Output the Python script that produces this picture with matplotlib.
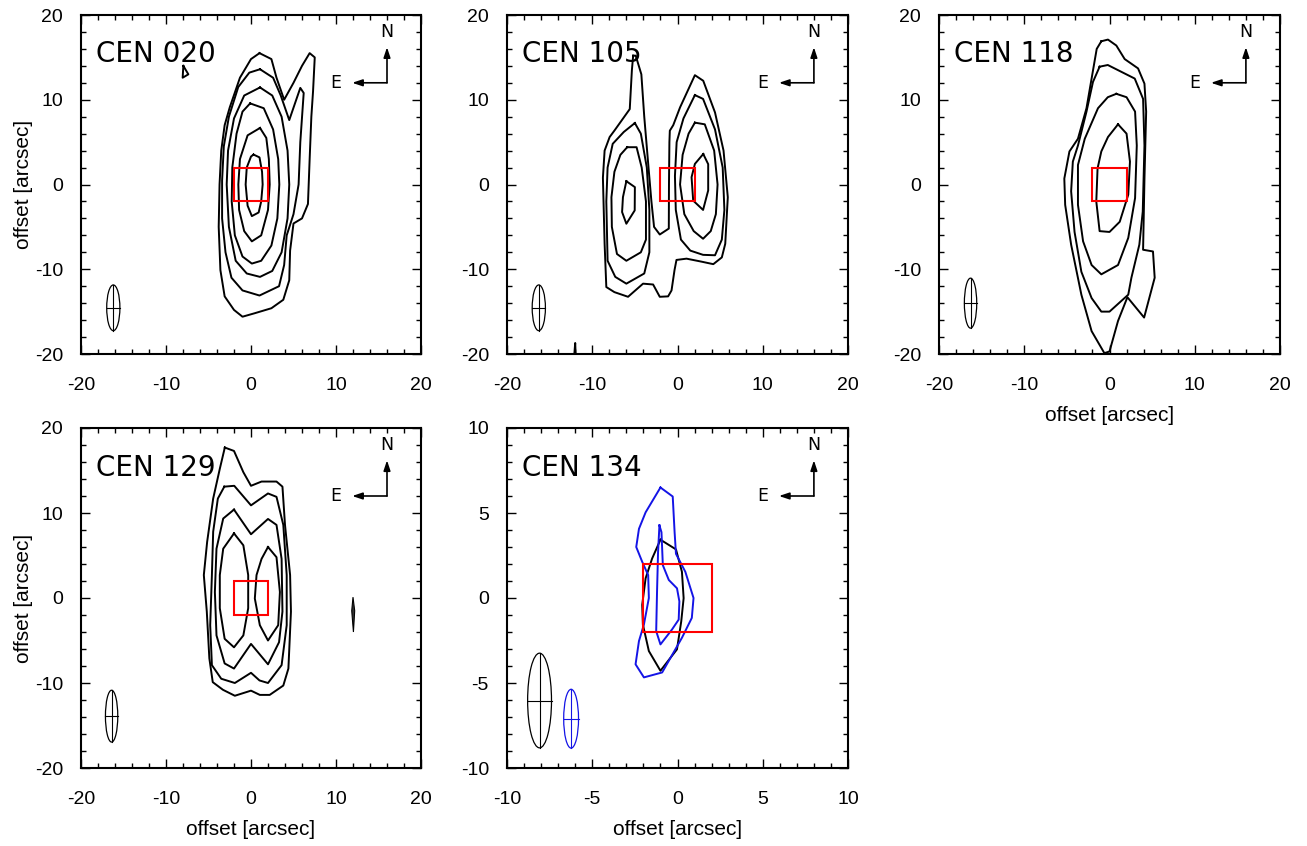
"""Integrated line maps of the CEN sources, five panels with beams, N/E arrows and
the red slit box. Contour outlines are traced from the published figure."""
import matplotlib
matplotlib.use("Agg")
import matplotlib.pyplot as plt  # noqa: E402
from matplotlib.patches import Ellipse, Rectangle  # noqa: E402
from matplotlib.ticker import MultipleLocator  # noqa: E402

W, H = 1307, 846
TICK_FONT = "Liberation Sans"
NAME_FONT = "DejaVu Sans"

# ---- data: contour outlines (x, y offsets in arcsec) -------------------------
CEN020 = [
    [(1.0, 15.5), (2.4, 14.8), (3.0, 12.6), (3.9, 10.0), (5.0, 12.0), (6.0, 14.0), (6.9, 15.5),
     (7.5, 15.0), (7.3, 11.0), (7.1, 8.0), (6.9, 3.0), (6.7, -2.3), (6.0, -4.0), (5.0, -4.6),
     (4.6, -7.8), (4.5, -11.3), (3.8, -13.6), (2.4, -14.6), (0.4, -15.2), (-1.0, -15.6),
     (-2.0, -14.8), (-3.1, -13.2), (-3.6, -10.1), (-3.8, -5.0), (-3.7, 0.0), (-3.5, 4.0),
     (-3.1, 7.0), (-2.5, 9.1), (-1.3, 12.6), (0.0, 14.8)],
    [(1.06, 13.6), (2.6, 12.6), (3.5, 10.5), (4.5, 7.6), (5.8, 11.4), (6.2, 10.8), (5.8, 5.0),
     (5.6, 0.0), (5.0, -3.5), (4.2, -6.0), (3.9, -9.5), (3.3, -12.0), (1.0, -13.1),
     (-1.0, -12.5), (-2.3, -11.0), (-3.0, -8.0), (-3.4, -4.0), (-3.4, 0.5), (-3.2, 4.5),
     (-2.6, 8.0), (-1.5, 11.5), (-0.2, 13.2)],
    [(1.06, 11.45), (2.5, 10.5), (3.6, 8.0), (4.3, 4.0), (4.5, 0.0), (4.3, -4.0), (3.6, -8.0),
     (2.5, -10.2), (1.06, -10.9), (-0.5, -10.5), (-1.8, -9.0), (-2.6, -5.0), (-2.86, 0.0),
     (-2.7, 4.0), (-2.0, 7.8), (-0.8, 10.5)],
    [(-0.1, 9.57), (1.5, 9.0), (2.6, 6.5), (3.2, 3.0), (3.33, 0.0), (3.1, -4.0), (2.4, -7.2),
     (1.2, -9.0), (0.1, -9.33), (-1.0, -8.5), (-1.9, -6.0), (-2.27, -2.0), (-2.2, 2.0),
     (-1.7, 6.0), (-1.0, 8.6)],
    [(1.06, 6.67), (1.8, 5.5), (2.1, 3.0), (2.2, 0.0), (2.0, -3.0), (1.2, -6.0), (0.1, -6.71),
     (-0.8, -5.5), (-1.4, -3.0), (-1.49, 0.0), (-1.3, 3.0), (-0.4, 5.8)],
    [(0.3, 3.53), (1.0, 3.2), (1.3, 1.5), (1.37, 0.0), (1.2, -2.0), (0.9, -3.3), (0.1, -3.73),
     (-0.4, -2.5), (-0.63, 0.0), (-0.5, 2.0), (0.0, 3.3)],
    [(-7.96, 14.0), (-8.04, 12.6), (-7.37, 13.0)],
]

CEN105 = [
    [(-5.2, 15.2), (-4.9, 15.2), (-4.24, 13.0), (-3.9, 8.0), (-3.4, 2.0), (-3.06, -2.0),
     (-2.75, -5.0), (-2.08, -5.9), (-1.02, -5.2), (-1.0, 0.0), (-0.95, 5.0), (-0.9, 6.35),
     (-0.5, 7.0), (0.3, 9.1), (2.04, 12.9), (3.02, 12.24), (4.4, 8.5), (5.4, 4.0), (5.9, -1.5),
     (5.6, -7.0), (5.2, -8.6), (4.2, -9.4), (2.8, -9.1), (1.06, -8.75), (-0.12, -8.9),
     (-0.35, -10.1), (-0.7, -12.5), (-1.1, -13.2), (-2.08, -13.25), (-2.86, -11.8),
     (-4.04, -11.7), (-5.8, -13.25), (-7.4, -12.7), (-8.35, -12.1), (-8.55, -7.0),
     (-8.75, 0.8), (-8.55, 4.0), (-7.96, 5.6), (-7.37, 6.4), (-5.6, 8.9), (-5.35, 13.5)],
    [(-5.0, 7.25), (-4.3, 6.0), (-3.6, 2.0), (-3.3, -3.0), (-3.3, -8.0), (-3.9, -10.5),
     (-6.0, -11.7), (-7.3, -10.9), (-8.2, -9.0), (-8.35, -2.0), (-8.2, 2.0), (-7.6, 4.8),
     (-6.3, 6.2)],
    [(-5.9, 4.4), (-4.8, 4.4), (-4.2, 2.0), (-3.7, -2.0), (-3.7, -6.5), (-4.3, -8.0),
     (-6.0, -9.0), (-7.1, -8.2), (-7.7, -5.0), (-7.75, -1.5), (-7.4, 1.5), (-6.7, 3.5)],
    [(-6.0, 0.39), (-5.0, -0.31), (-5.02, -3.06), (-6.0, -4.63), (-6.5, -3.25), (-6.4, -1.5)],
    [(2.04, 10.55), (3.0, 10.1), (4.4, 6.5), (5.3, 2.0), (5.5, -3.0), (5.2, -6.5),
     (4.4, -8.35), (3.0, -8.3), (1.5, -7.8), (0.4, -6.5), (-0.2, -3.0), (-0.3, 1.0),
     (-0.1, 5.0), (0.7, 7.8)],
    [(2.04, 7.3), (3.2, 7.1), (4.3, 4.0), (4.7, 0.0), (4.5, -3.5), (3.9, -5.5), (3.0, -6.4),
     (1.9, -5.5), (0.8, -3.5), (0.3, 0.0), (0.6, 3.5), (1.3, 6.0)],
    [(3.02, 3.6), (3.6, 2.4), (3.6, -0.7), (3.0, -3.0), (1.84, -1.9), (1.65, 0.86),
     (2.04, 2.43)],
    [(-12.1, -20.0), (-12.0, -18.7), (-11.95, -20.0)],
]

CEN118 = [
    [(-0.96, 16.9), (-0.18, 17.1), (0.8, 16.4), (1.78, 14.8), (3.35, 13.7), (4.1, 11.9),
     (4.3, 8.6), (4.1, 0.7), (3.94, -7.7), (5.1, -7.9), (5.3, -11.0), (4.06, -15.7),
     (2.1, -13.3), (1.0, -16.1), (0.0, -19.7), (-0.6, -19.9), (-2.1, -17.3), (-3.3, -13.0),
     (-4.5, -7.1), (-5.2, -2.4), (-5.3, 0.7), (-4.7, 3.9), (-3.7, 5.4), (-2.7, 9.0),
     (-2.1, 12.5), (-1.5, 16.0)],
    [(-1.16, 13.9), (-0.2, 14.1), (2.96, 12.5), (3.94, 10.1), (4.1, 4.6), (3.9, -3.2),
     (3.5, -7.1), (2.57, -11.0), (2.2, -13.0), (0.0, -15.0), (-0.96, -15.0), (-2.1, -13.4),
     (-3.3, -10.3), (-4.1, -5.6), (-4.5, -0.8), (-4.3, 2.7), (-3.7, 4.6), (-2.7, 8.6),
     (-1.94, 12.1)],
    [(0.8, 10.7), (2.0, 10.3), (3.0, 8.6), (3.2, 4.6), (3.0, -1.6), (2.2, -6.3), (1.0, -9.5),
     (-0.96, -10.6), (-2.1, -9.5), (-3.1, -6.7), (-3.7, -2.4), (-3.7, 2.3), (-2.9, 5.4),
     (-1.35, 9.0), (-0.2, 10.3)],
    [(1.0, 7.1), (2.0, 6.0), (2.4, 2.7), (2.2, -1.2), (1.2, -4.4), (0.0, -5.6), (-1.16, -5.5),
     (-1.55, -2.0), (-1.4, 1.9), (-0.96, 3.9), (-0.18, 5.6)],
]

CEN129 = [
    [(-3.08, 17.7), (-2.0, 17.3), (-0.9, 14.8), (0.0, 13.2), (1.24, 13.7), (3.0, 13.7),
     (3.7, 13.1), (4.0, 8.6), (4.6, 2.7), (4.7, -1.6), (4.4, -8.3), (3.8, -10.3), (2.2, -11.4),
     (1.04, -11.4), (0.0, -10.9), (-1.9, -11.5), (-3.3, -10.8), (-4.5, -9.9), (-4.9, -7.1),
     (-5.2, -1.6), (-5.55, 2.7), (-5.16, 6.6), (-4.45, 11.7), (-3.67, 15.2)],
    [(-3.14, 13.1), (-1.97, 13.2), (0.0, 10.9), (2.0, 12.3), (3.0, 11.9), (3.8, 8.6),
     (4.2, 2.7), (4.2, -3.2), (3.6, -7.9), (2.0, -10.0), (1.0, -9.7), (0.0, -8.8),
     (-1.9, -10.0), (-3.5, -9.5), (-4.6, -7.9), (-4.8, -3.2), (-4.6, 2.7), (-4.45, 7.8),
     (-3.9, 11.7)],
    [(-2.0, 10.4), (0.0, 7.5), (2.0, 9.3), (3.0, 8.6), (3.6, 4.6), (3.7, -1.6), (3.3, -5.2),
     (2.0, -7.8), (0.0, -5.4), (-2.0, -8.3), (-3.1, -7.7), (-4.06, -4.4), (-4.25, 0.7),
     (-4.06, 5.8), (-3.27, 9.35)],
    [(-2.0, 7.6), (-0.9, 6.2), (-0.33, 2.7), (-0.33, -1.2), (-0.9, -4.4), (-2.0, -5.8),
     (-3.1, -4.8), (-3.67, -1.2), (-3.67, 2.7), (-3.27, 5.8)],
    [(2.0, 6.0), (3.0, 4.8), (3.4, 0.7), (3.2, -3.2), (2.0, -5.0), (1.04, -3.2), (0.45, -0.06),
     (0.65, 2.7), (1.24, 4.6)],
]
CEN129_BLOB = [(12.0, 0.1), (12.2, -1.5), (12.05, -4.0), (11.85, -1.5)]

CEN134_BLACK = [
    [(-1.0, 3.43), (-0.09, 2.86), (0.26, 1.54), (0.36, -0.01), (0.22, -1.37), (-0.03, -3.02),
     (-1.0, -4.28), (-1.68, -3.12), (-2.03, -1.56), (-2.07, -0.4), (-1.87, 1.16),
     (-1.49, 2.32)],
]
CEN134_BLUE = [
    [(-1.0, 6.5), (-0.28, 5.97), (-0.17, 3.87), (-0.09, 2.6), (0.46, 1.54), (0.94, 0.0),
     (0.84, -1.17), (0.26, -2.34), (-0.9, -4.38), (-1.97, -4.67), (-2.46, -3.9),
     (-2.26, -2.53), (-1.97, -1.56), (-1.68, 0.0), (-1.72, 1.35), (-2.07, 2.13), (-2.42, 3.0),
     (-2.26, 4.07), (-1.87, 5.04)],
    [(-1.06, 4.27), (-0.94, 3.87), (-0.86, 1.93), (-0.51, 1.06), (-0.03, 0.57), (0.11, -0.2),
     (0.07, -1.27), (-0.32, -1.85), (-1.0, -2.73), (-1.25, -1.95), (-1.2, 0.38),
     (-1.14, 2.71)],
]

# beams: (x centre, y centre, width, height) in arcsec
BEAM020 = (-16.2, -14.55, 1.55, 5.4)
BEAM105 = (-16.27, -14.55, 1.55, 5.4)
BEAM118 = (-16.3, -14.0, 1.45, 5.9)
BEAM129 = (-16.4, -13.9, 1.45, 6.1)
BEAM134_BLACK = (-8.09, -6.03, 1.4, 5.57)
BEAM134_BLUE = (-6.24, -7.1, 0.87, 3.46)

NAMES = ["CEN 020", "CEN 105", "CEN 118", "CEN 129", "CEN 134"]
SLIT = 2.0  # half size of red box, arcsec


def px_axes(fig, left, right, top, bottom):
    return fig.add_axes([left / W, 1 - bottom / H, (right - left) / W, (bottom - top) / H])


def closed(pts):
    xs = [p[0] for p in pts] + [pts[0][0]]
    ys = [p[1] for p in pts] + [pts[0][1]]
    return xs, ys


def beam(ax, b, color):
    x, y, w, h = b
    ax.add_patch(Ellipse((x, y), w, h, fill=False, ec=color, lw=0.9))
    ax.plot([x - w / 2, x + w / 2], [y, y], color=color, lw=0.8)
    ax.plot([x, x], [y - h / 2, y + h / 2], color=color, lw=0.8)


def panel(ax, name, lim, contours, beams, blue=None, xlabel=False, ylabel=False):
    s = lim / 20.0  # scale for the decorations on the smaller field
    for c in contours:
        ax.plot(*closed(c), color="black", lw=1.4)
    for c in blue or []:
        ax.plot(*closed(c), color="#1414e6", lw=1.4)
    for b, col in beams:
        beam(ax, b, col)
    ax.add_patch(Rectangle((-SLIT, -SLIT), 2 * SLIT, 2 * SLIT, fill=False, ec="red", lw=1.5, zorder=5))
    # compass
    ox, oy = 16.0 * s, 12.0 * s
    ap = dict(arrowstyle="-|>,head_length=0.6,head_width=0.2", color="black", lw=1.2,
              shrinkA=0, shrinkB=0)
    ax.annotate("", xy=(ox, 16.2 * s), xytext=(ox, oy), arrowprops=ap)
    ax.annotate("", xy=(11.9 * s, oy), xytext=(ox, oy), arrowprops=ap)
    ax.text(ox, 18.0 * s, "N", ha="center", va="center", fontsize=12.5, family=NAME_FONT)
    ax.text(10.0 * s, oy, "E", ha="center", va="center", fontsize=12.5, family=NAME_FONT)
    ax.text(-18.25 * s, 14.4 * s, name, ha="left", va="baseline", fontsize=20, family=NAME_FONT)

    ax.set_xlim(-lim, lim)
    ax.set_ylim(-lim, lim)
    major = 10 if lim == 20 else 5
    ax.xaxis.set_major_locator(MultipleLocator(major))
    ax.yaxis.set_major_locator(MultipleLocator(major))
    ax.xaxis.set_minor_locator(MultipleLocator(major / 5))
    ax.yaxis.set_minor_locator(MultipleLocator(major / 5))
    ax.tick_params(which="both", direction="in", top=True, right=True, width=1.0)
    ax.tick_params(which="major", length=6.5, labelsize=14)
    ax.tick_params(axis="x", which="major", pad=16.5)
    ax.tick_params(axis="y", which="major", pad=13)
    ax.tick_params(which="minor", length=3.5)
    ax.set_xticklabels([f"{v:g}" for v in ax.get_xticks()], family=TICK_FONT)
    ax.set_yticklabels([f"{v:g}" for v in ax.get_yticks()], family=TICK_FONT)
    for sp in ax.spines.values():
        sp.set_linewidth(1.5)
    if xlabel:
        ax.set_xlabel("offset [arcsec]", fontsize=15, family=TICK_FONT, labelpad=9)
    if ylabel:
        ax.set_ylabel("offset [arcsec]", fontsize=15, family=TICK_FONT, labelpad=1)


def main():
    fig = plt.figure(figsize=(W / 100, H / 100), dpi=100)
    a1 = px_axes(fig, 81, 421, 15, 354)
    a2 = px_axes(fig, 507, 848, 15, 354)
    a3 = px_axes(fig, 939, 1280, 15, 354)
    a4 = px_axes(fig, 81, 421, 428, 768)
    a5 = px_axes(fig, 507, 848, 428, 768)

    panel(a1, NAMES[0], 20, CEN020, [(BEAM020, "black")], ylabel=True)
    panel(a2, NAMES[1], 20, CEN105, [(BEAM105, "black")])
    panel(a3, NAMES[2], 20, CEN118, [(BEAM118, "black")], xlabel=True)
    panel(a4, NAMES[3], 20, CEN129, [(BEAM129, "black")], xlabel=True, ylabel=True)
    a4.fill(*closed(CEN129_BLOB), color="#333333", ec="black", lw=0.8)
    panel(a5, NAMES[4], 10, CEN134_BLACK, [(BEAM134_BLACK, "black"), (BEAM134_BLUE, "#1414e6")],
          blue=CEN134_BLUE, xlabel=True)

    fig.savefig("out.png", dpi=100)


if __name__ == "__main__":
    main()
